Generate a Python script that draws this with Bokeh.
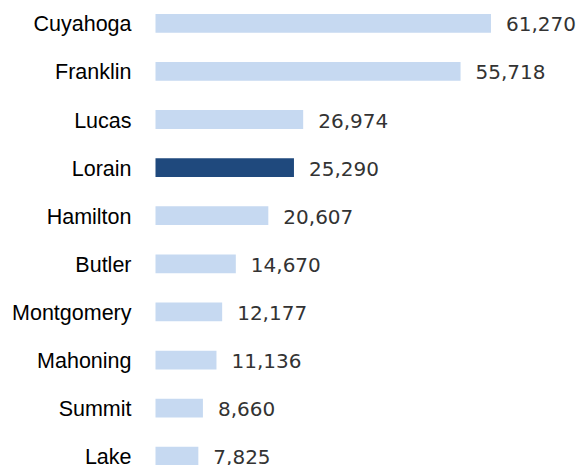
from bokeh.plotting import figure
from bokeh.models import ColumnDataSource, Range1d
from bokeh.core.properties import value
from bokeh.embed import file_html
from bokeh.resources import INLINE

counties = ["Cuyahoga", "Franklin", "Lucas", "Lorain", "Hamilton",
            "Butler", "Montgomery", "Mahoning", "Summit", "Lake"]
counts = [61270, 55718, 26974, 25290, 20607, 14670, 12177, 11136, 8660, 7825]
highlight = "Lorain"

light = "#c6d9f1"
dark = "#1f497d"

src = ColumnDataSource(dict(
    county=counties,
    count=counts,
    pos=list(range(len(counties))),
    label=[f"{v:,}" for v in counts],
    color=[dark if c == highlight else light for c in counties],
))

p = figure(width=580, height=465, output_backend="svg", toolbar_location=None,
           x_range=Range1d(-28311, 77626), y_range=Range1d(9.193, -0.474),
           x_axis_location=None, y_axis_location=None,
           min_border_left=0, min_border_right=0, min_border_top=0, min_border_bottom=0)
p.outline_line_color = None
p.xgrid.visible = False
p.ygrid.visible = False
p.background_fill_color = "white"
p.border_fill_color = "white"

p.hbar(y="pos", left=0, right="count", height=0.39, fill_color="color",
       line_color=None, source=src)

p.text(x=0, y="pos", text="county", x_offset=-24, y_offset=1,
       text_align="right", text_baseline="middle",
       text_font=value("Liberation Sans"), text_font_size="21.5px",
       text_color="#000000", source=src)

p.text(x="count", y="pos", text="label", x_offset=15, y_offset=1,
       text_align="left", text_baseline="middle",
       text_font=value("DejaVu Sans"), text_font_size="20px",
       text_color="#333333", source=src)

open("out.html", "w").write(file_html(p, INLINE))
